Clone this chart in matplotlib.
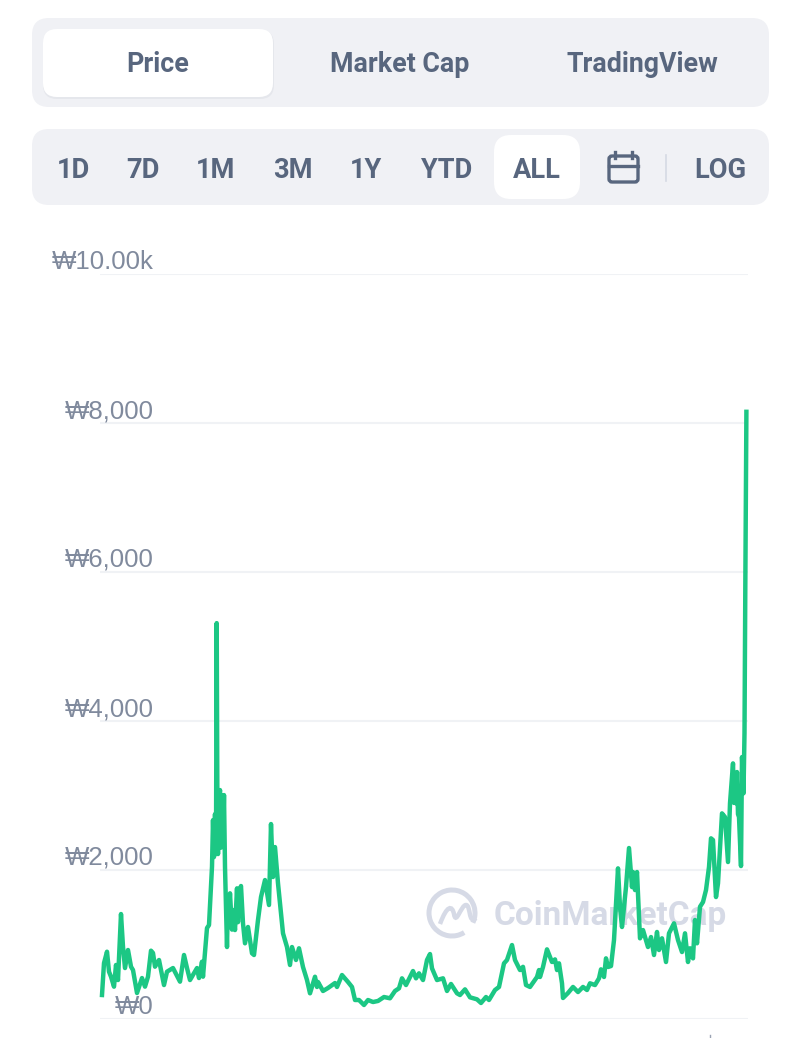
import matplotlib.pyplot as plt
from matplotlib.patches import Arc, FancyBboxPatch, PathPatch
from matplotlib.path import Path

# time position along the x axis
days = [
    102, 104, 107, 109, 111, 114, 116, 118, 121, 123, 125, 128, 131, 133, 137,
    142, 145, 148, 151, 153, 155, 159, 164, 167, 173, 180, 184, 187, 190, 197,
    199, 202, 203, 207, 209, 212, 213, 214, 215, 216, 216.7, 217.5, 218, 219, 220,
    221, 222, 223, 224, 225, 227, 228, 229, 230, 232, 233, 235, 237, 238, 239,
    241, 243, 245, 248, 252, 254, 258, 261, 265, 269, 271, 273, 275, 278, 283,
    287, 290, 292, 296, 299, 303, 307, 310, 315, 317, 318, 323, 328, 335, 337,
    342, 348, 352, 355, 359, 364, 368, 373, 378, 384, 390, 395, 399, 402, 406,
    413, 416, 419, 423, 427, 430, 432, 437, 443, 447, 451, 457, 460, 465, 470,
    477, 481, 486, 489, 495, 499, 504, 507, 512, 515, 520, 523, 526, 530, 537,
    539, 540, 543, 547, 552, 555, 557, 559, 562, 563, 568, 573, 578, 583, 587,
    590, 595, 599, 601, 604, 606, 608, 611, 614, 618, 620, 622, 626, 629, 632,
    633, 635, 637, 640, 643, 648, 651, 654, 657, 659, 662, 666, 669, 674, 678,
    682, 685, 688, 690, 693, 695, 697, 700, 703, 706, 709, 711, 713, 716, 718,
    722, 725, 728, 730, 733, 734, 735, 736, 737, 738, 739, 741, 742, 743.5, 744.5,
    745.3, 746.4,
]
price = [
    322, 750, 903, 635, 568, 434, 725, 523, 1409, 970, 684, 926, 702, 657, 349,
    550, 434, 568, 917, 886, 702, 792, 456, 635, 684, 501, 859, 684, 523, 684,
    550, 769, 568, 1221, 1261, 2044, 2670, 2174, 2750, 2300, 5314, 2500, 2214, 2900, 3073,
    2300, 3000, 2358, 3006, 2040, 966, 1650, 1450, 1687, 1200, 1463, 1194, 1754, 1300, 1700,
    1785, 1284, 1016, 1235, 882, 859, 1329, 1637, 1865, 1530, 2617, 1906, 2308, 1821, 1150,
    966, 725, 966, 792, 949, 698, 523, 345, 567, 430, 497, 376, 416, 483, 430,
    590, 497, 430, 255, 255, 188, 255, 228, 242, 295, 278, 376, 412, 546, 456,
    644, 546, 613, 523, 792, 872, 680, 523, 546, 376, 470, 345, 322, 398, 291,
    264, 215, 295, 255, 389, 430, 747, 792, 993, 792, 657, 700, 456, 430, 564,
    657, 564, 698, 935, 765, 800, 657, 747, 479, 282, 349, 430, 362, 430, 389,
    479, 456, 546, 667, 564, 814, 698, 711, 1060, 2022, 1503, 1235, 1771, 2295, 1771,
    1973, 1731, 1973, 1083, 1194, 966, 1100, 859, 1168, 926, 1083, 765, 1150, 1284, 1060,
    899, 1150, 765, 949, 814, 1329, 1016, 1507, 1570, 1731, 2040, 2425, 2402, 1637, 1821,
    2760, 2711, 2107, 2895, 3431, 2900, 3300, 2895, 3315, 2750, 2711, 2053, 3516, 3029, 3838,
    5770, 8150,
]
tick_values = [0, 2000, 4000, 6000, 8000, 10000]
tick_labels = ["₩0", "₩2,000", "₩4,000", "₩6,000", "₩8,000", "₩10.00k"]
view_tabs = ["Price", "Market Cap", "TradingView"]
view_tab_x = [158, 400, 642]
range_tabs = ["1D", "7D", "1M", "3M", "1Y", "YTD", "ALL", "LOG"]
range_tab_x = [73, 143, 216, 293, 366, 447, 537, 720]

GREEN = "#1cc784"
PANEL = "#f0f1f5"
UI_TEXT = "#58667e"
AXIS_TEXT = "#808a9d"
WATERMARK = "#d6dae6"
FONT = ["Roboto", "Liberation Sans", "DejaVu Sans"]


def rounded(ax, x0, y0, x1, y1, radius, **kwargs):
    ax.add_patch(FancyBboxPatch(
        (x0 + radius, y0 + radius), x1 - x0 - 2 * radius, y1 - y0 - 2 * radius,
        boxstyle=f"round,pad={radius},rounding_size={radius}", lw=0, **kwargs,
    ))


def draw_controls(ax):
    rounded(ax, 32, 18, 769, 107, 17, fc=PANEL)
    rounded(ax, 43, 30, 274, 99, 14, fc="#e5e7ec")
    rounded(ax, 43, 29, 273, 97, 14, fc="white")
    rounded(ax, 32, 129, 769, 205, 17, fc=PANEL)
    rounded(ax, 494, 135, 580, 199, 17, fc="white")
    for label, x in zip(view_tabs, view_tab_x):
        ax.text(x, 64, label, ha="center", va="center", fontsize=19.3,
                fontweight="bold", color=UI_TEXT, family=FONT)
    for label, x in zip(range_tabs, range_tab_x):
        ax.text(x, 170, label, ha="center", va="center", fontsize=19.6,
                fontweight="bold", color=UI_TEXT, family=FONT)
    # calendar icon and divider
    ax.add_patch(FancyBboxPatch((611, 158), 25, 22,
                                boxstyle="round,pad=2,rounding_size=3",
                                fc="none", ec=UI_TEXT, lw=2.4))
    ax.plot([609, 638], [166, 166], color=UI_TEXT, lw=2.4)
    ax.plot([615, 615], [152, 158], color=UI_TEXT, lw=2.4)
    ax.plot([632, 632], [152, 158], color=UI_TEXT, lw=2.4)
    ax.plot([666, 666], [155, 181], color="#d5dae3", lw=1.2)


def draw_watermark(ax):
    ax.add_patch(Arc((452, 913), 46, 46, theta1=58, theta2=385,
                     ec=WATERMARK, lw=3.6))
    wave = Path(
        [(440, 924), (447, 905), (452, 905), (454, 914), (456, 926), (461, 905),
         (466, 905), (471, 905), (468, 925), (476, 918)],
        [Path.MOVETO] + [Path.CURVE4] * 9,
    )
    ax.add_patch(PathPatch(wave, fc="none", ec=WATERMARK, lw=3.2))
    ax.text(494, 916, "CoinMarketCap", ha="left", va="center", fontsize=24,
            fontweight="bold", color=WATERMARK, family=FONT)


def plot_price():
    fig = plt.figure(figsize=(8, 10.38), dpi=100, facecolor="white")

    ui = fig.add_axes([0, 0, 1, 1])
    ui.set_xlim(0, 800)
    ui.set_ylim(1038, 0)
    ui.axis("off")
    draw_controls(ui)
    draw_watermark(ui)
    ui.plot([710, 710], [1035, 1038], color="#9aa3b3", lw=1)

    # chart area runs from x=100 to 748 and y=274 to 1019 in pixels
    ax = fig.add_axes([100 / 800, 1 - 1019 / 1038, 648 / 800, 745 / 1038])
    ax.patch.set_alpha(0)
    ax.set_xlim(100, 748)
    ax.set_ylim(0, 10000)
    for spine in ax.spines.values():
        spine.set_visible(False)
    ax.set_xticks([])
    ax.set_yticks(tick_values, tick_labels)
    ax.grid(axis="y", color="#f0f2f5", lw=1.5)
    ax.set_axisbelow(True)
    ax.tick_params(axis="y", length=0, pad=-38.5, labelsize=18.5, labelcolor=AXIS_TEXT)
    for label in ax.get_yticklabels():
        label.set_family(["Liberation Sans", "DejaVu Sans"])
        label.set_verticalalignment("bottom")
    ax.plot(days, price, color=GREEN, lw=3.2, solid_joinstyle="round", clip_on=False)

    fig.savefig("out.png", dpi=100)
    plt.close(fig)


if __name__ == "__main__":
    assert len(days) == len(price), (len(days), len(price))
    plot_price()
